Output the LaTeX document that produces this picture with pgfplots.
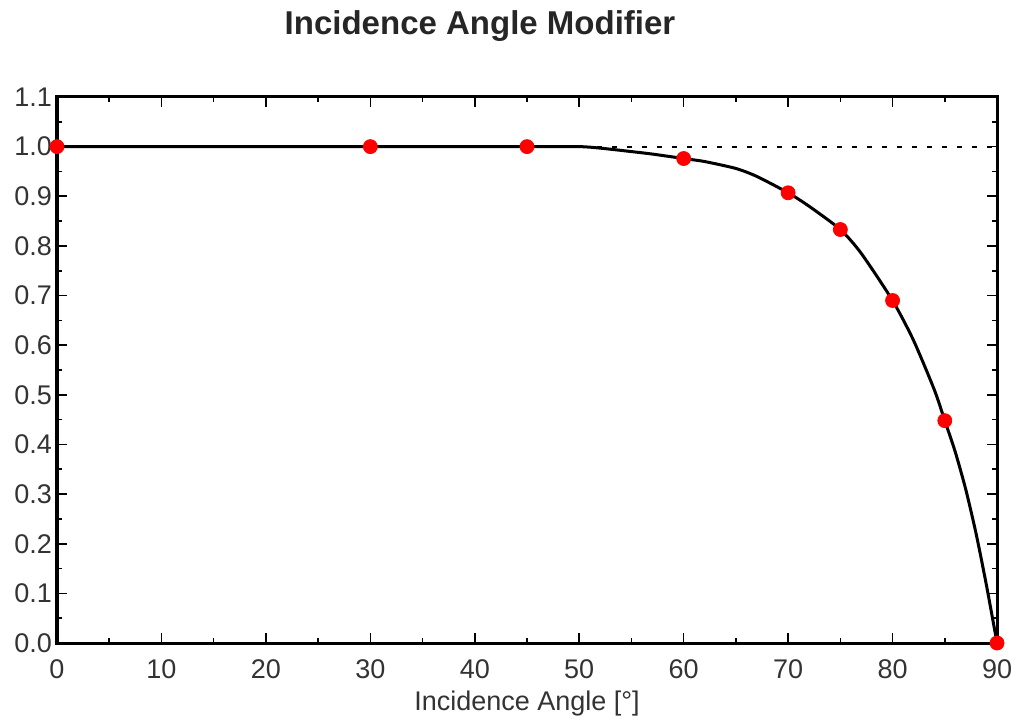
\documentclass[border=0pt]{standalone}
\usepackage{pgfplots}
\pgfplotsset{compat=1.18}
\usepackage{fontspec}
\setmainfont{Liberation Sans}
\begin{document}
\begin{tikzpicture}
\begin{axis}[
  name=ax,
  scale only axis,
  width=470pt, height=273pt,
  xmin=0, xmax=90, ymin=0, ymax=1.1,
  xtick={0,10,...,90},
  ytick={0,0.1,...,1.1},
  minor tick num=1,
  tick align=inside,
  major tick length=5pt,
  minor tick length=2.5pt,
  axis line style={line width=1.5pt},
  every tick/.style={black, line width=0.8pt},
  tick label style={font=\fontsize{13.5}{16}\selectfont, text=black!80},
  /pgf/number format/assume math mode=true,
  yticklabel style={/pgf/number format/fixed, /pgf/number format/fixed zerofill, /pgf/number format/precision=1, xshift=1pt},
  xticklabel style={/pgf/number format/fixed, yshift=-5pt},
  scaled ticks=false,
  xlabel={Incidence Angle [°]},
  xlabel style={font=\fontsize{13.5}{16}\selectfont, text=black!80, yshift=1pt},
  title={\textbf{Incidence Angle Modifier}},
  title style={font=\fontsize{16.5}{19}\selectfont, text=black!85, yshift=18pt, xshift=-23.5pt},
  clip=false,
]
\addplot[black, line width=1pt, dash pattern=on 2.5pt off 5pt] coordinates {(0,1) (90,1)};
\addplot[black, line width=1.5pt, smooth, tension=0.4] coordinates {
(0,1) (30,1) (45,1) (50,1) (52,0.997) (55,0.99) (57,0.985) (60,0.976)
(62,0.97) (65,0.956) (67,0.94) (70,0.907) (72,0.88) (75,0.833) (77,0.785)
(80,0.69) (82,0.61) (84,0.51) (85,0.448) (86,0.385) (87,0.31) (88,0.22) (89,0.115) (90,0)};
\addplot[only marks, mark=*, mark size=3.5pt, color=red] coordinates {
(0,1) (30,1) (45,1) (60,0.976) (70,0.907) (75,0.833) (80,0.69) (85,0.448) (90,0)};
\end{axis}
\pgfresetboundingbox
\path ([shift={(-28.5pt,-38.5pt)}]ax.south west) rectangle ([shift={(7.5pt,48.5pt)}]ax.north east);
\end{tikzpicture}
\end{document}
